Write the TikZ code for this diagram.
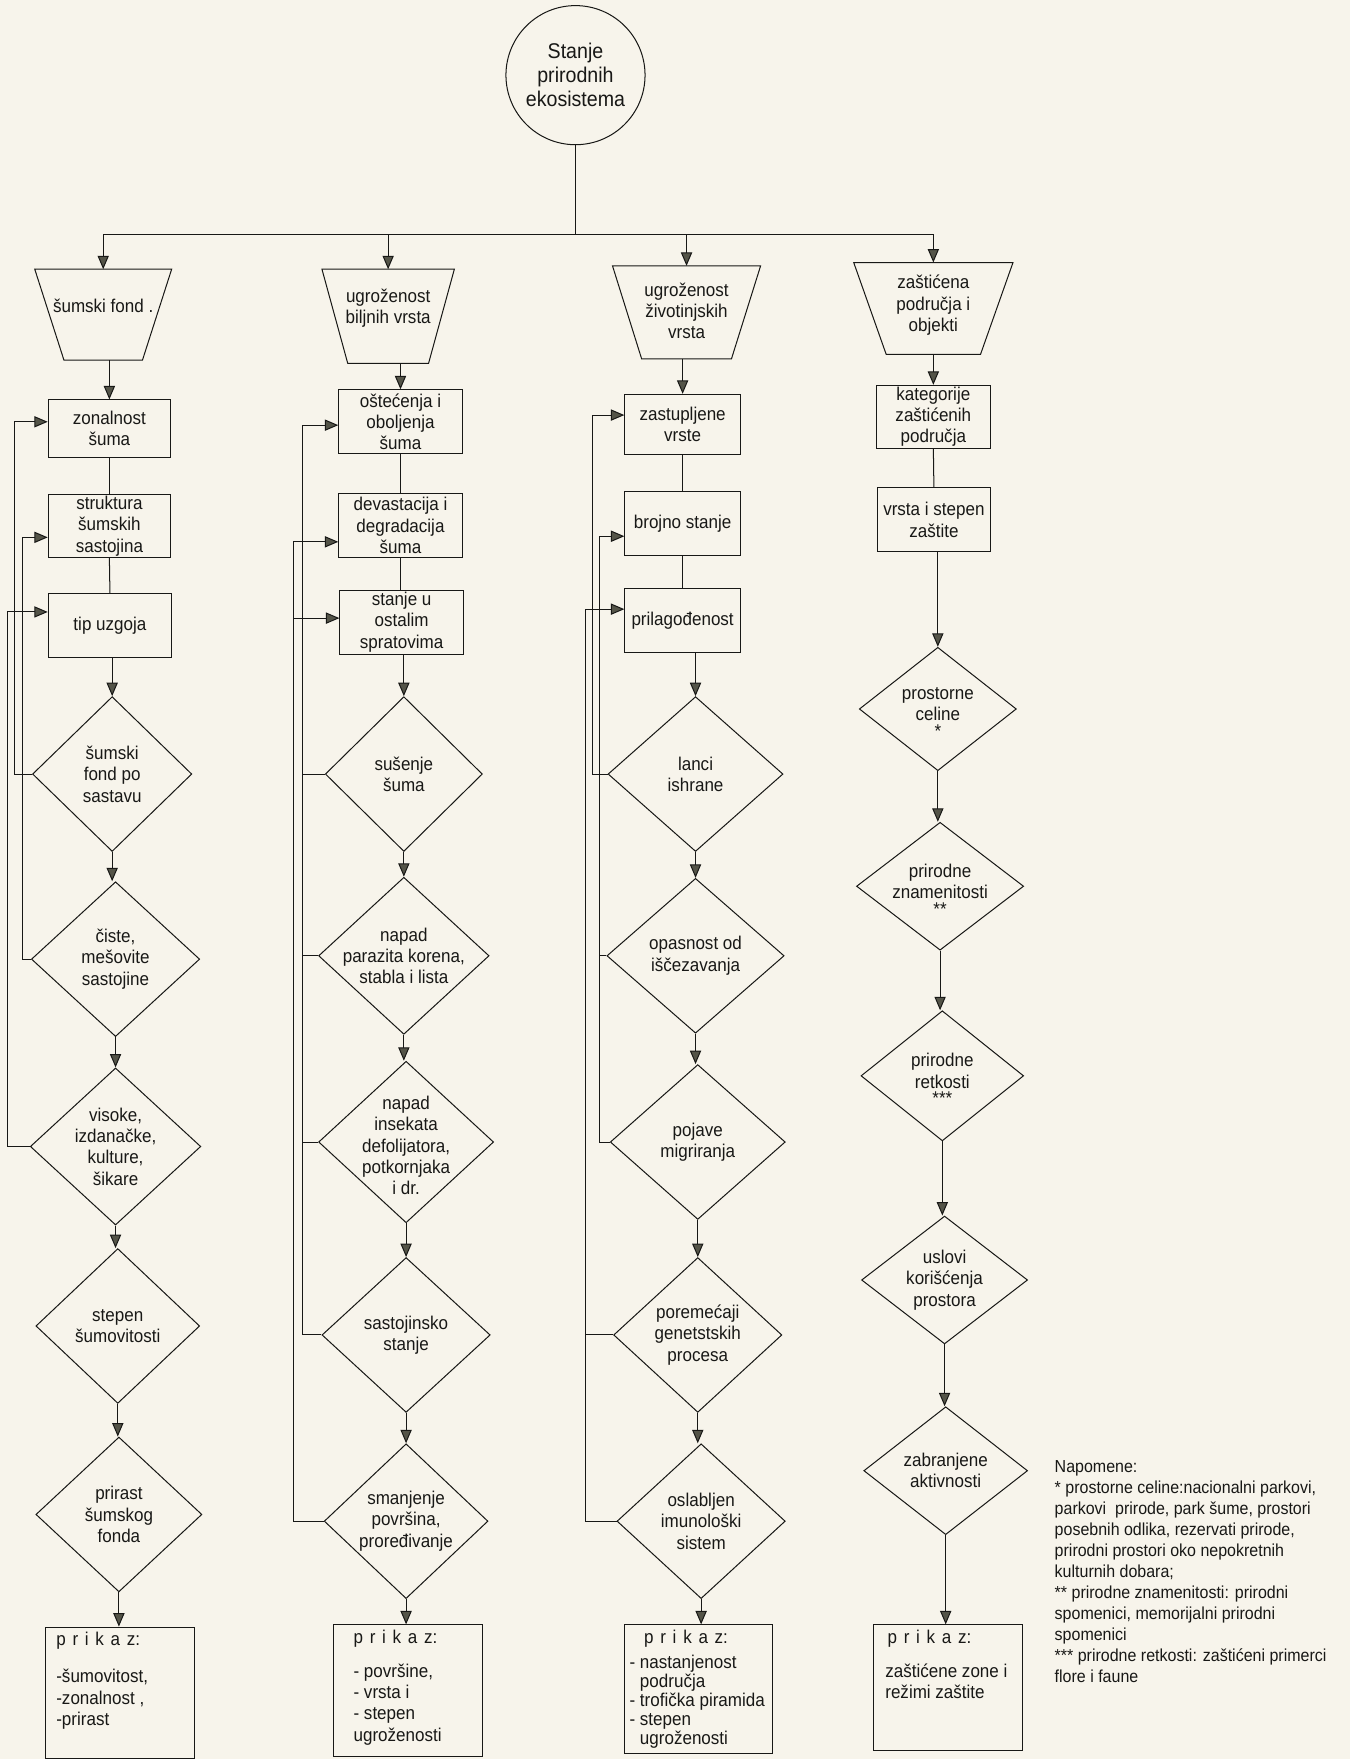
\documentclass[tikz,border=0pt]{standalone}
\usepackage{fontspec}
\setmainfont[FakeStretch=0.92]{Liberation Sans}
\usetikzlibrary{arrows.meta,shapes.geometric,calc}
\definecolor{paper}{RGB}{247,244,235}
\definecolor{ink}{RGB}{24,24,22}
\definecolor{tipc}{RGB}{84,84,72}
\newcommand\fNode{\fontsize{16.5}{19}\selectfont}
\newcommand\fCirc{\fontsize{19}{21.5}\selectfont}
\newcommand\fNote{\fontsize{15.5}{18.7}\selectfont}
\newcommand\fPrik{\fontsize{16.5}{19}\selectfont}
\newcommand\fPrikS{\fontsize{16.5}{17}\selectfont}
\newcommand\prk{p\hspace{6pt}r\hspace{6pt}i\hspace{6pt}k\hspace{6pt}a\hspace{6pt}z:}
\begin{document}
\begin{tikzpicture}[x=1pt,y=-1pt,
  ln/.style={draw=ink, line width=0.9pt},
  arr/.style={ln, -{Triangle[length=12pt,width=10pt,fill=tipc]}},
  nbox/.style={draw=ink, line width=0.9pt, rectangle, inner sep=0pt, align=center, font=\fNode, text=ink},
  ndia/.style={draw=ink, line width=0.9pt, diamond, inner sep=0pt},
  ntxt/.style={align=center, font=\fNode, text=ink, inner sep=0pt},
  pbox/.style={draw=ink, line width=0.9pt, rectangle, inner sep=0pt, anchor=north west},
  ptxt/.style={align=left, font=\fPrik, text=ink, inner sep=0pt, anchor=north west},
]
\fill[paper] (0,0) rectangle (1203,1568);
\path[use as bounding box] (0,0) rectangle (1203,1568);

% ---------- top circle and bus ----------
\node[circle, draw=ink, line width=0.9pt, minimum size=124pt, inner sep=0pt, align=center, font=\fCirc, text=ink] (top) at (513,67) {Stanje\\prirodnih\\ekosistema};
\coordinate (bus) at (513,209);

% ---------- trapezoids ----------
\draw[ln] (92-61,240) -- (92+61,240) -- (92+35,321) -- (92-35,321) -- cycle;
\coordinate (T1t) at (92,240); \coordinate (T1b) at (92,321);
\node[ntxt] (T1) at (92,273) {šumski fond .};

\draw[ln] (346-59,240) -- (346+59,240) -- (346+36,324) -- (346-36,324) -- cycle;
\coordinate (T2t) at (346,240); \coordinate (T2b) at (346,324);
\node[ntxt] (T2) at (346,275) {ugroženost\\biljnih vrsta};

\draw[ln] (612-66,237) -- (612+66,237) -- (612+40,320) -- (612-40,320) -- cycle;
\coordinate (T3t) at (612,237); \coordinate (T3b) at (612,320);
\node[ntxt] (T3) at (612,277) {ugroženost\\životinjskih\\vrsta};

\draw[ln] (832-71,234) -- (832+71,234) -- (832+42,316) -- (832-42,316) -- cycle;
\coordinate (T4t) at (832,234); \coordinate (T4b) at (832,316);
\node[ntxt] (T4) at (832,272) {zaštićena\\područja i\\objekti};

\draw[ln] (top.south) -- (bus);
\draw[ln] (T1t |- bus) -- (T4t |- bus);
\draw[arr] (T1t |- bus) -- (T1t);
\draw[arr] (T2t |- bus) -- (T2t);
\draw[arr] (T3t |- bus) -- (T3t);
\draw[arr] (T4t |- bus) -- (T4t);

% ---------- column 1 ----------
\node[nbox, minimum width=109pt, minimum height=51pt] (b11) at (97.5,382) {zonalnost\\šuma};
\node[nbox, minimum width=109pt, minimum height=56pt] (b12) at (97.5,469) {struktura\\šumskih\\sastojina};
\node[nbox, minimum width=110pt, minimum height=57pt] (b13) at (98,557.5) {tip uzgoja};

\node[ndia, minimum width=142pt, minimum height=138pt] (d11) at (100,690) {};
\node[ntxt] at (d11) {šumski\\fond po\\sastavu};
\node[ndia, minimum width=150pt, minimum height=138pt] (d12) at (103,855) {};
\node[ntxt] at (d12) {čiste,\\mešovite\\sastojine};
\node[ndia, minimum width=152pt, minimum height=140pt] (d13) at (103,1022) {};
\node[ntxt] at (d13) {visoke,\\izdanačke,\\kulture,\\šikare};
\node[ndia, minimum width=146pt, minimum height=138pt] (d14) at (105,1182) {};
\node[ntxt] at (d14) {stepen\\šumovitosti};
\node[ndia, minimum width=148pt, minimum height=138pt] (d15) at (106,1350) {};
\node[ntxt] at (d15) {prirast\\šumskog\\fonda};

\node[pbox, minimum width=133pt, minimum height=117pt] (P1) at (40,1450) {};
\node[ptxt] (P1t) at (50,1455) {\prk\\[14pt]-šumovitost,\\-zonalnost ,\\-prirast};

\draw[arr] (b11.north |- T1b) -- (b11.north);
\draw[ln] (b11.south) -- (b12.north);
\draw[ln] (b12.south) -- (b13.north);
\draw[arr] (d11.north |- b13.south) -- (d11.north);
\draw[arr] (d11.south) -- (d11.south |- d12.north);
\draw[arr] (d12.south) -- (d12.south |- d13.north);
\draw[arr] (d13.south) -- (d13.south |- d14.north);
\draw[arr] (d14.south) -- (d14.south |- d15.north);
\draw[arr] (d15.south) -- (d15.south |- P1.north);

\coordinate (L1a) at (7,0); \coordinate (L1b) at (13,0); \coordinate (L1c) at (20,0);
\coordinate (b11in) at ([yshift=6pt]b11.west);
\coordinate (b12in) at ([yshift=-10pt]b12.west);
\coordinate (b13in) at ([yshift=12pt]b13.west);
\draw[arr] (d11.west) -- (d11.west -| L1b) |- (b11in);
\draw[arr] (d12.west) -- (d12.west -| L1c) |- (b12in);
\draw[arr] (d13.west) -- (d13.west -| L1a) |- (b13in);

% ---------- column 2 ----------
\node[nbox, minimum width=110pt, minimum height=57pt] (b21) at (357,376) {oštećenja i\\oboljenja\\šuma};
\node[nbox, minimum width=110pt, minimum height=57pt] (b22) at (357,468.5) {devastacija i\\degradacija\\šuma};
\node[nbox, minimum width=110pt, minimum height=57pt] (b23) at (358,554.5) {stanje u\\ostalim\\spratovima};

\node[ndia, minimum width=140pt, minimum height=138pt] (d21) at (360,690) {};
\node[ntxt] at (d21) {sušenje\\šuma};
\node[ndia, minimum width=152pt, minimum height=140pt] (d22) at (360,852) {};
\node[ntxt] at (d22) {napad\\parazita korena,\\stabla i lista};
\node[ndia, minimum width=156pt, minimum height=144pt] (d23) at (362,1018) {};
\node[ntxt] at ([yshift=-3pt]d23) {napad\\insekata\\defolijatora,\\potkornjaka\\i dr.};
\node[ndia, minimum width=150pt, minimum height=138pt] (d24) at (362,1190) {};
\node[ntxt] at (d24) {sastojinsko\\stanje};
\node[ndia, minimum width=146pt, minimum height=138pt] (d25) at (362,1356) {};
\node[ntxt] at (d25) {smanjenje\\površina,\\proređivanje};

\node[pbox, minimum width=133pt, minimum height=117pt] (P2) at (297,1448) {};
\node[ptxt] (P2t) at (315,1453) {\prk\\[11pt]- površine,\\- vrsta i\\- stepen\\ugroženosti};

\draw[arr] (b21.north |- T2b) -- (b21.north);
\draw[ln] (b21.south) -- (b22.north);
\draw[ln] (b22.south) -- (b22.south |- b23.north);
\draw[arr] (d21.north |- b23.south) -- (d21.north);
\draw[arr] (d21.south) -- (d21.south |- d22.north);
\draw[arr] (d22.south) -- (d22.south |- d23.north);
\draw[arr] (d23.south) -- (d23.south |- d24.north);
\draw[arr] (d24.south) -- (d24.south |- d25.north);
\draw[arr] (d25.south) -- (d25.south |- P2.north);

\coordinate (L2a) at (262,0); \coordinate (L2b) at (270,0);
\coordinate (b21in) at ([yshift=-3pt]b21.west);
\coordinate (b22in) at ([yshift=-14.5pt]b22.west);
\coordinate (b23in) at ([yshift=3.5pt]b23.west);
\draw[arr] (d24.west) -- (d24.west -| L2b) |- (b21in);
\draw[ln] (d21.west) -- (d21.west -| L2b);
\draw[ln] (d22.west) -- (d22.west -| L2b);
\draw[ln] (d23.west) -- (d23.west -| L2b);
\draw[arr] (d25.west) -- (d25.west -| L2a) |- (b22in);
\draw[arr] (b23in -| L2a) -- (b23in);

% ---------- column 3 ----------
\node[nbox, minimum width=103pt, minimum height=54pt] (b31) at (608.5,378.5) {zastupljene\\vrste};
\node[nbox, minimum width=103pt, minimum height=57pt] (b32) at (608.5,467) {brojno stanje};
\node[nbox, minimum width=103pt, minimum height=57pt] (b33) at (608.5,553) {prilagođenost};

\node[ndia, minimum width=156pt, minimum height=138pt] (d31) at (620,690) {};
\node[ntxt] at (d31) {lanci\\ishrane};
\node[ndia, minimum width=158pt, minimum height=138pt] (d32) at (620,852) {};
\node[ntxt] at (d32) {opasnost od\\iščezavanja};
\node[ndia, minimum width=156pt, minimum height=138pt] (d33) at (622,1018) {};
\node[ntxt] at (d33) {pojave\\migriranja};
\node[ndia, minimum width=150pt, minimum height=138pt] (d34) at (622,1190) {};
\node[ntxt] at (d34) {poremećaji\\genetstskih\\procesa};
\node[ndia, minimum width=150pt, minimum height=138pt] (d35) at (625,1356) {};
\node[ntxt] at (d35) {oslabljen\\imunološki\\sistem};

\node[pbox, minimum width=132pt, minimum height=115pt] (P3) at (556,1448) {};
\node[ptxt, font=\fPrikS] (P3t) at (561,1453) {\hspace*{13pt}\prk\\[5pt]- nastanjenost\\\phantom{- }područja\\- trofička piramida\\- stepen\\\phantom{- }ugroženosti};

\draw[arr] (b31.north |- T3b) -- (b31.north);
\draw[ln] (b31.south) -- (b32.north);
\draw[ln] (b32.south) -- (b33.north);
\draw[arr] (d31.north |- b33.south) -- (d31.north);
\draw[arr] (d31.south) -- (d31.south |- d32.north);
\draw[arr] (d32.south) -- (d32.south |- d33.north);
\draw[arr] (d33.south) -- (d33.south |- d34.north);
\draw[arr] (d34.south) -- (d34.south |- d35.north);
\draw[arr] (d35.south) -- (d35.south |- P3.north);

\coordinate (L3a) at (522,0); \coordinate (L3b) at (528,0); \coordinate (L3c) at (534,0);
\coordinate (b31in) at ([yshift=8.5pt]b31.west);
\coordinate (b32in) at ([yshift=-11pt]b32.west);
\coordinate (b33in) at ([yshift=10pt]b33.west);
\draw[arr] (d31.west) -- (d31.west -| L3b) |- (b31in);
\draw[arr] (d33.west) -- (d33.west -| L3c) |- (b32in);
\draw[ln] (d32.west) -- (d32.west -| L3c);
\draw[arr] (d35.west) -- (d35.west -| L3a) |- (b33in);
\draw[ln] (d34.west) -- (d34.west -| L3a);

% ---------- column 4 ----------
\node[nbox, minimum width=101pt, minimum height=56pt] (b41) at (832,371.5) {kategorije\\zaštićenih\\područja};
\node[nbox, minimum width=101pt, minimum height=57pt] (b42) at (832.5,463.5) {vrsta i stepen\\zaštite};

\node[ndia, minimum width=140pt, minimum height=110pt] (d41) at (836,632) {};
\node[ntxt] at ([yshift=-3pt]d41) {prostorne\\celine\\[-4pt]*};
\node[ndia, minimum width=149pt, minimum height=114pt] (d42) at (838,790) {};
\node[ntxt] at ([yshift=-3pt]d42) {prirodne\\znamenitosti\\[-4pt]**};
\node[ndia, minimum width=145pt, minimum height=116pt] (d43) at (840,959) {};
\node[ntxt] at ([yshift=-3pt]d43) {prirodne\\retkosti\\[-4pt]***};
\node[ndia, minimum width=148pt, minimum height=114pt] (d44) at (842,1141) {};
\node[ntxt] at (d44) {uslovi\\korišćenja\\prostora};
\node[ndia, minimum width=146pt, minimum height=114pt] (d45) at (843,1311) {};
\node[ntxt] at (d45) {zabranjene\\aktivnosti};

\node[pbox, minimum width=133pt, minimum height=112pt] (P4) at (778,1448) {};
\node[ptxt] (P4t) at (789,1453) {\hspace*{2pt}\prk\\[11pt]zaštićene zone i\\režimi zaštite};

\draw[arr] (b41.north |- T4b) -- (b41.north);
\draw[ln] (b41.south) -- (b42.north);
\draw[arr] (d41.north |- b42.south) -- (d41.north);
\draw[arr] (d41.south) -- (d41.south |- d42.north);
\draw[arr] (d42.south) -- (d42.south |- d43.north);
\draw[arr] (d43.south) -- (d43.south |- d44.north);
\draw[arr] (d44.south) -- (d44.south |- d45.north);
\draw[arr] (d45.south) -- (d45.south |- P4.north);

% ---------- notes ----------
\node[align=left, font=\fNote, text=ink, inner sep=0pt, anchor=north west] (notes) at (940,1302) {Napomene:\\
* prostorne celine:nacionalni parkovi,\\
parkovi\ \ prirode, park šume, prostori\\
posebnih odlika, rezervati prirode,\\
prirodni prostori oko nepokretnih\\
kulturnih dobara;\\
** prirodne znamenitosti: prirodni\\
spomenici, memorijalni prirodni\\
spomenici\\
*** prirodne retkosti: zaštićeni primerci\\
flore i faune};
\end{tikzpicture}
\end{document}
